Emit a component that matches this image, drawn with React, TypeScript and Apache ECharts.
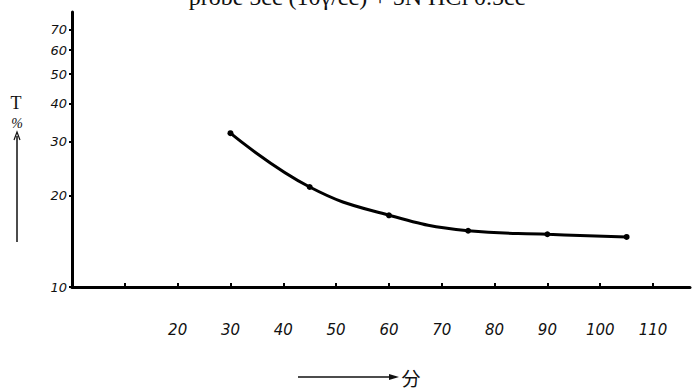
import React, { useEffect, useRef } from "react";
import * as echarts from "echarts";

// Time (minutes) and transmittance T (%)
const minutes = [30, 45, 60, 75, 90, 105];
const transmittance = [32.0, 21.3, 17.2, 15.3, 14.9, 14.6];

// Axis ticks and labels
const yTickValues = [10, 20, 30, 40, 50, 60, 70];
const xTickValues = [10, 20, 30, 40, 50, 60, 70, 80, 90, 100, 110];
const xLabelValues = [20, 30, 40, 50, 60, 70, 80, 90, 100, 110];

const titleText = "probe 5cc (10γ/cc) + 5N HCl 0.5cc";
const yNameTop = "T";
const yNameUnit = "%";
const xName = "分";

export default function App() {
  const ref = useRef<HTMLDivElement>(null);

  useEffect(() => {
    if (!ref.current) return;
    const chart = echarts.init(ref.current, null, { renderer: "svg" });
    const data = minutes.map((m, i) => [m, transmittance[i]]);
    chart.setOption({
      animation: false,
      backgroundColor: "#ffffff",
      grid: { left: 72, right: 8, top: 12, bottom: 105 },
      xAxis: {
        type: "value",
        min: 0,
        max: 117,
        axisLine: { lineStyle: { color: "#000", width: 3 } },
        axisTick: {
          show: true,
          inside: true,
          length: 4,
          customValues: xTickValues,
          lineStyle: { color: "#000", width: 2 },
        },
        splitLine: { show: false },
        axisLabel: {
          customValues: xLabelValues,
          margin: 35,
          color: "#111",
          fontSize: 15,
          fontStyle: "italic",
          fontFamily: "DejaVu Sans",
        },
      },
      yAxis: {
        type: "log",
        logBase: 10,
        min: 10,
        max: 80,
        axisLine: { show: true, lineStyle: { color: "#000", width: 3 } },
        axisTick: {
          show: true,
          length: 3,
          customValues: yTickValues,
          lineStyle: { color: "#000", width: 2 },
        },
        minorTick: { show: false },
        splitLine: { show: false },
        axisLabel: {
          customValues: yTickValues,
          margin: 5,
          color: "#111",
          fontSize: 13,
          fontStyle: "italic",
          fontFamily: "DejaVu Sans",
        },
      },
      series: [
        {
          type: "line",
          data,
          smooth: 0.45,
          symbol: "circle",
          symbolSize: 6,
          itemStyle: { color: "#000" },
          lineStyle: { color: "#000", width: 3 },
        },
      ],
      graphic: [
        {
          type: "text",
          x: 357,
          y: -15,
          style: {
            text: titleText,
            fill: "#111",
            fontSize: 24,
            fontFamily: "Liberation Serif",
            align: "center",
            verticalAlign: "top",
          },
        },
        {
          type: "text",
          x: 16,
          y: 103,
          style: {
            text: yNameTop,
            fill: "#111",
            fontSize: 18,
            fontFamily: "Liberation Serif",
            align: "center",
            verticalAlign: "middle",
          },
        },
        {
          type: "text",
          x: 17,
          y: 123,
          style: {
            text: yNameUnit,
            fill: "#111",
            fontSize: 14,
            fontFamily: "Liberation Serif",
            fontStyle: "italic",
            align: "center",
            verticalAlign: "middle",
          },
        },
        {
          type: "line",
          shape: { x1: 17, y1: 242, x2: 17, y2: 136 },
          style: { stroke: "#111", lineWidth: 1.5 },
        },
        {
          type: "polyline",
          shape: { points: [[14, 140], [17, 132], [20, 140]] },
          style: { stroke: "#111", lineWidth: 1.2, fill: "none" },
        },
        {
          type: "line",
          shape: { x1: 298, y1: 377, x2: 396, y2: 377 },
          style: { stroke: "#111", lineWidth: 1.5 },
        },
        {
          type: "polygon",
          shape: { points: [[389, 374], [399, 377], [389, 380]] },
          style: { fill: "#111" },
        },
        {
          type: "text",
          x: 411,
          y: 377,
          style: {
            text: xName,
            fill: "#111",
            fontSize: 19,
            fontFamily: "Noto Sans CJK JP",
            align: "center",
            verticalAlign: "middle",
          },
        },
      ],
    });
    return () => chart.dispose();
  }, []);

  return (
    <div
      ref={ref}
      style={{ position: "fixed", left: 0, top: 0, width: 698, height: 392 }}
    />
  );
}
